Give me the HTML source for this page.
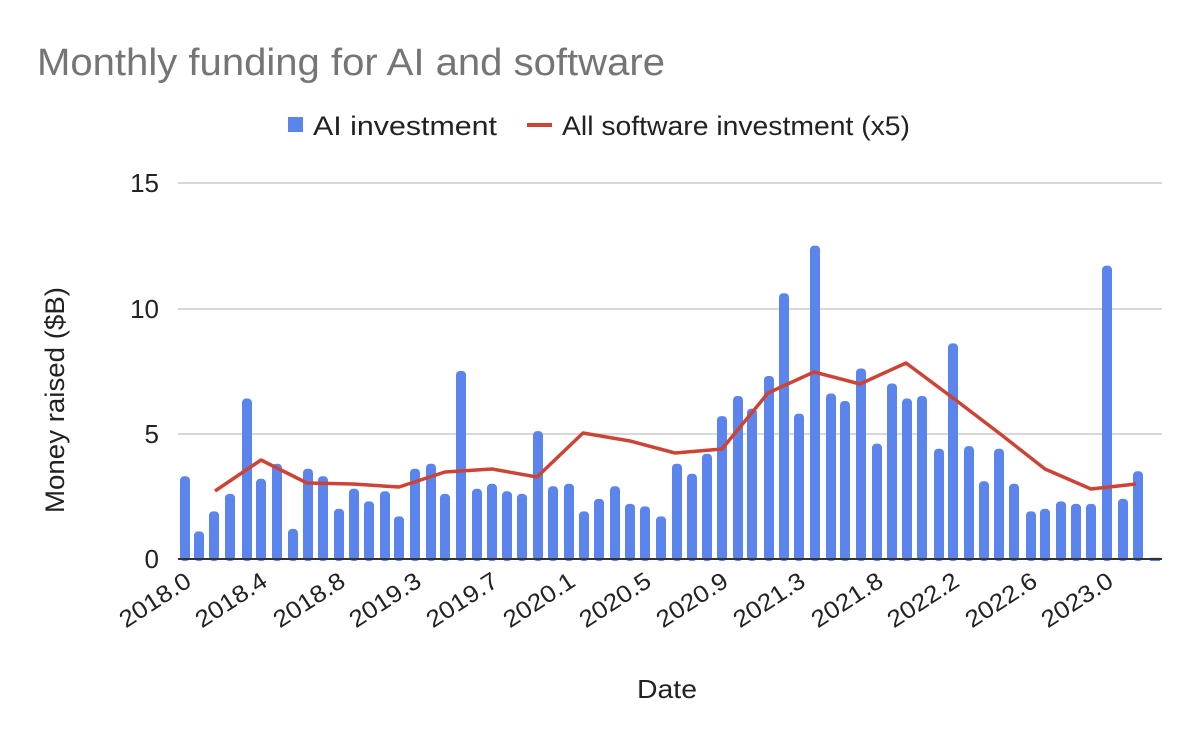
<!DOCTYPE html>
<html><head><style>body{margin:0;background:#fff}</style></head><body>
<svg width="1200" height="742" xmlns="http://www.w3.org/2000/svg" font-family="Liberation Sans, Arial, sans-serif">
<rect width="1200" height="742" fill="#fff"/>
<text x="37" y="75" font-size="38" fill="#757575" textLength="628" lengthAdjust="spacingAndGlyphs">Monthly funding for AI and software</text>
<rect x="288" y="117" width="15" height="15" fill="#5b85ec"/>
<text x="313" y="135" font-size="27" fill="#222" textLength="184" lengthAdjust="spacingAndGlyphs">AI investment</text>
<rect x="527" y="123" width="25" height="4" fill="#cc4435"/>
<text x="562" y="135" font-size="27" fill="#222" textLength="348" lengthAdjust="spacingAndGlyphs">All software investment (x5)</text>
<g stroke="#cccccc" stroke-width="1.5">
<line x1="178" y1="183" x2="1162" y2="183"/><line x1="178" y1="309" x2="1162" y2="309"/><line x1="178" y1="434" x2="1162" y2="434"/>
</g>
<g font-size="26" fill="#222" text-anchor="end">
<text x="159" y="192">15</text><text x="159" y="318">10</text><text x="159" y="443">5</text><text x="159" y="568">0</text>
</g>
<g id="bars" fill="#5b85ec"></g>
<line x1="178" y1="559" x2="1162" y2="559" stroke="#333" stroke-width="2"/>
<polyline fill="none" stroke="#cc4435" stroke-width="3.5" stroke-linejoin="round" points="215,491 261,460 307,483 353,484 399,487 445,472 492,469 537,477 583,433 630,441 675,453 722,449 768,393 814,372 860,384 906,363 953,398 999,433 1045,469 1091,489 1136,484"/>
<g font-size="24" fill="#222" text-anchor="end" id="xl"></g>
<text transform="translate(64,400) rotate(-90)" font-size="27" fill="#222" text-anchor="middle" textLength="226" lengthAdjust="spacingAndGlyphs">Money raised ($B)</text>
<text x="667" y="698" font-size="26" fill="#222" text-anchor="middle" textLength="60" lengthAdjust="spacingAndGlyphs">Date</text>
</svg>
<script>
var d=[[185,3.3],[199,1.1],[214,1.9],[230,2.6],[247,6.4],[261,3.2],[277,3.8],[293,1.2],[308,3.6],[323,3.3],[339,2.0],[354,2.8],[369,2.3],[385,2.7],[399,1.7],[415,3.6],[431,3.8],[445,2.6],[461,7.5],[477,2.8],[492,3.0],[507,2.7],[522,2.6],[538,5.1],[553,2.9],[569,3.0],[584,1.9],[599,2.4],[615,2.9],[630,2.2],[645,2.1],[661,1.7],[677,3.8],[692,3.4],[707,4.2],[722,5.7],[738,6.5],[752,6.0],[769,7.3],[784,10.6],[799,5.8],[815,12.5],[831,6.6],[845,6.3],[861,7.6],[877,4.6],[892,7.0],[907,6.4],[922,6.5],[939,4.4],[953,8.6],[969,4.5],[984,3.1],[999,4.4],[1014,3.0],[1031,1.9],[1045,2.0],[1061,2.3],[1076,2.2],[1091,2.2],[1107,11.7],[1123,2.4],[1138,3.5],[1155,0.05]];
var ns="http://www.w3.org/2000/svg",g=document.getElementById("bars");
d.forEach(function(b){var h=b[1]*25.07,r=document.createElementNS(ns,"rect");r.setAttribute("x",b[0]-5);r.setAttribute("y",559-h);r.setAttribute("width",10);r.setAttribute("height",h+2);r.setAttribute("rx",h>6?4:0);g.appendChild(r);});
var L=[[185,"2018.0"],[261,"2018.4"],[339,"2018.8"],[415,"2019.3"],[492,"2019.7"],[569,"2020.1"],[645,"2020.5"],[722,"2020.9"],[799,"2021.3"],[877,"2021.8"],[953,"2022.2"],[1031,"2022.6"],[1107,"2023.0"]],x=document.getElementById("xl");
L.forEach(function(l){var t=document.createElementNS(ns,"text");t.setAttribute("transform","translate("+(l[0]+8)+",585) rotate(-33)");t.setAttribute("textLength","80");t.setAttribute("lengthAdjust","spacingAndGlyphs");t.textContent=l[1];x.appendChild(t);});
</script>
</body></html>
